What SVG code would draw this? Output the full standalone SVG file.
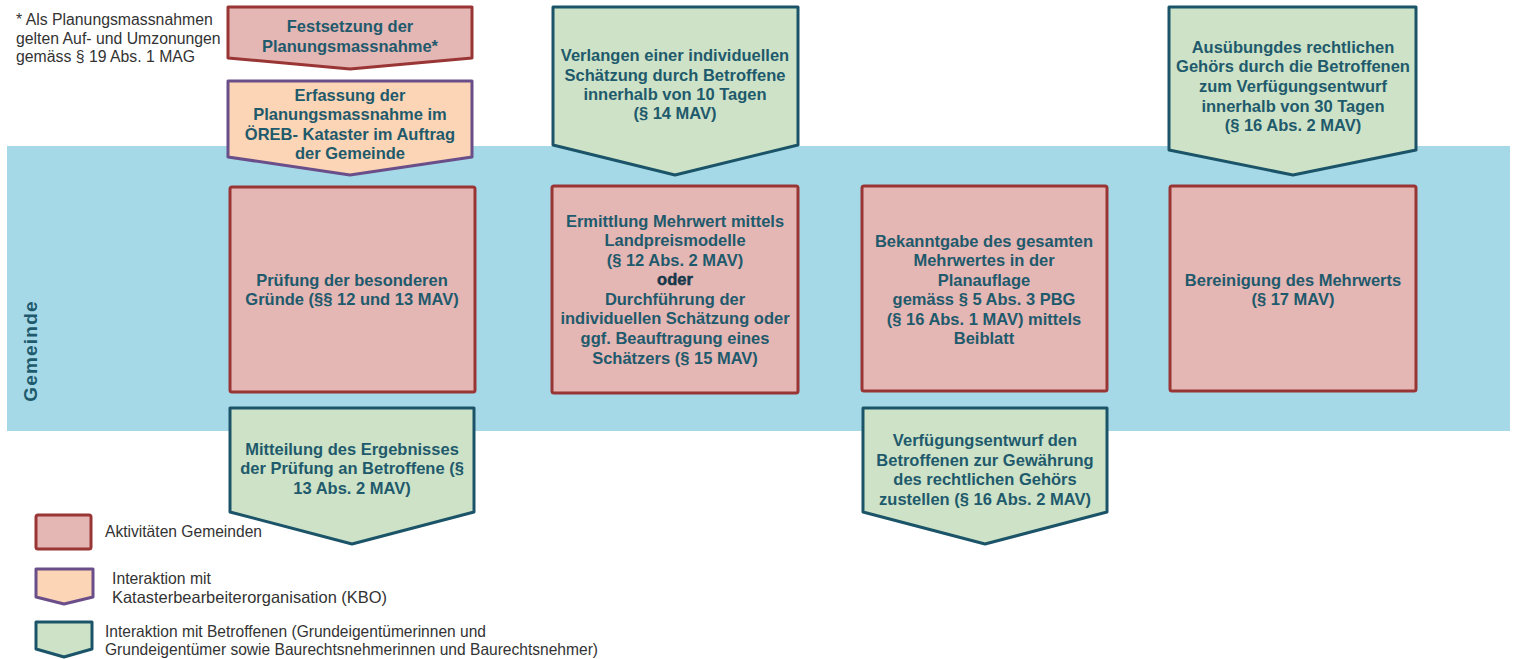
<svg xmlns="http://www.w3.org/2000/svg" width="1517" height="659" viewBox="0 0 1517 659">
<style>
.act{fill:#e4b6b4;stroke:#9a3535;stroke-width:3;stroke-linejoin:round}
.kbo{fill:#fbd5b5;stroke:#6a4e8a;stroke-width:3;stroke-linejoin:round}
.bet{fill:#cde2c7;stroke:#1b5468;stroke-width:3;stroke-linejoin:round}
.t{font-family:"Liberation Sans",Arial,sans-serif;font-weight:bold;font-size:16.5px;fill:#1f5a6c;text-anchor:middle}
.n{font-family:"Liberation Sans",Arial,sans-serif;font-size:15.8px;fill:#333}
.l{font-family:"Liberation Sans",Arial,sans-serif;font-size:16.5px;fill:#333}
</style>
<rect x="7" y="146" width="1503" height="285" fill="#a6d9e8"/>
<text transform="translate(37,351) rotate(-90)" font-family="Liberation Sans,Arial,sans-serif" font-weight="bold" font-size="19" fill="#1f5a6c" text-anchor="middle" letter-spacing="1.2">Gemeinde</text>
<g id="note">
<text class="n" x="16" y="25">* Als Planungsmassnahmen</text>
<text class="n" x="16" y="43.5">gelten Auf- und Umzonungen</text>
<text class="n" x="16" y="62">gemäss § 19 Abs. 1 MAG</text>
</g>
<g id="connectors"></g>
<g id="festsetzung">
<path class="act" d="M228,7 H472 V58 L350,69 L228,58 Z"/>
<text class="t" x="350" y="32">Festsetzung der</text>
<text class="t" x="350" y="52">Planungsmassnahme*</text>
</g>
<g id="erfassung">
<path class="kbo" d="M228,81 H472 V157 L350,175 L228,157 Z"/>
<text class="t" x="350" y="101">Erfassung der</text>
<text class="t" x="350" y="120">Planungsmassnahme im</text>
<text class="t" x="350" y="140">ÖREB- Kataster im Auftrag</text>
<text class="t" x="350" y="159">der Gemeinde</text>
</g>
<g id="pruefung">
<rect class="act" x="230" y="187" width="245" height="205" rx="2"/>
<text class="t" x="352" y="286">Prüfung der besonderen</text>
<text class="t" x="352" y="305">Gründe (§§ 12 und 13 MAV)</text>
</g>
<g id="mitteilung">
<path class="bet" d="M230,408 H474 V512 L352,544 L230,512 Z"/>
<text class="t" x="352" y="455">Mitteilung des Ergebnisses</text>
<text class="t" x="352" y="474">der Prüfung an Betroffene (§</text>
<text class="t" x="352" y="494">13 Abs. 2 MAV)</text>
</g>
<g id="verlangen">
<path class="bet" d="M553,7 H798 V145 L675,175 L553,145 Z"/>
<text class="t" x="675" y="61">Verlangen einer individuellen</text>
<text class="t" x="675" y="81">Schätzung durch Betroffene</text>
<text class="t" x="675" y="100">innerhalb von 10 Tagen</text>
<text class="t" x="675" y="119">(§ 14 MAV)</text>
</g>
<g id="ermittlung">
<rect class="act" x="552" y="186" width="246" height="207" rx="2"/>
<text class="t" x="675" y="227">Ermittlung Mehrwert mittels</text>
<text class="t" x="675" y="246">Landpreismodelle</text>
<text class="t" x="675" y="266">(§ 12 Abs. 2 MAV)</text>
<text class="t" x="675" y="285" style="fill:#16384a;stroke:#16384a;stroke-width:0.5">oder</text>
<text class="t" x="675" y="305">Durchführung der</text>
<text class="t" x="675" y="324">individuellen Schätzung oder</text>
<text class="t" x="675" y="344">ggf. Beauftragung eines</text>
<text class="t" x="675" y="364">Schätzers (§ 15 MAV)</text>
</g>
<g id="bekanntgabe">
<rect class="act" x="862" y="186" width="245" height="205" rx="2"/>
<text class="t" x="984" y="247">Bekanntgabe des gesamten</text>
<text class="t" x="984" y="266">Mehrwertes in der</text>
<text class="t" x="984" y="286">Planauflage</text>
<text class="t" x="984" y="305">gemäss § 5 Abs. 3 PBG</text>
<text class="t" x="984" y="325">(§ 16 Abs. 1 MAV) mittels</text>
<text class="t" x="984" y="344">Beiblatt</text>
</g>
<g id="verfuegung">
<path class="bet" d="M863,408 H1107 V512 L985,544 L863,512 Z"/>
<text class="t" x="985" y="446">Verfügungsentwurf den</text>
<text class="t" x="985" y="466">Betroffenen zur Gewährung</text>
<text class="t" x="985" y="485">des rechtlichen Gehörs</text>
<text class="t" x="985" y="505">zustellen (§ 16 Abs. 2 MAV)</text>
</g>
<g id="ausuebung">
<path class="bet" d="M1169,7 H1416 V150 L1293,175 L1169,150 Z"/>
<text class="t" x="1293" y="53">Ausübungdes rechtlichen</text>
<text class="t" x="1293" y="72">Gehörs durch die Betroffenen</text>
<text class="t" x="1293" y="92">zum Verfügungsentwurf</text>
<text class="t" x="1293" y="112">innerhalb von 30 Tagen</text>
<text class="t" x="1293" y="131">(§ 16 Abs. 2 MAV)</text>
</g>
<g id="bereinigung">
<rect class="act" x="1170" y="186" width="246" height="205" rx="2"/>
<text class="t" x="1293" y="286">Bereinigung des Mehrwerts</text>
<text class="t" x="1293" y="305">(§ 17 MAV)</text>
</g>
<g id="legend">
<rect class="act" x="36" y="515" width="55" height="34" rx="2"/>
<text class="l" x="105" y="537" textLength="157" lengthAdjust="spacingAndGlyphs">Aktivitäten Gemeinden</text>
<path class="kbo" d="M36,569 H93 V597 L64,604 L36,597 Z"/>
<text class="l" x="112" y="584" textLength="99" lengthAdjust="spacingAndGlyphs">Interaktion mit</text>
<text class="l" x="112" y="603" textLength="275" lengthAdjust="spacingAndGlyphs">Katasterbearbeiterorganisation (KBO)</text>
<path class="bet" d="M36,622 H92 V649 L64,657 L36,649 Z"/>
<text class="l" x="105" y="637" textLength="381" lengthAdjust="spacingAndGlyphs">Interaktion mit Betroffenen (Grundeigentümerinnen und</text>
<text class="l" x="105" y="655" textLength="493" lengthAdjust="spacingAndGlyphs">Grundeigentümer sowie Baurechtsnehmerinnen und Baurechtsnehmer)</text>
</g>
</svg>
